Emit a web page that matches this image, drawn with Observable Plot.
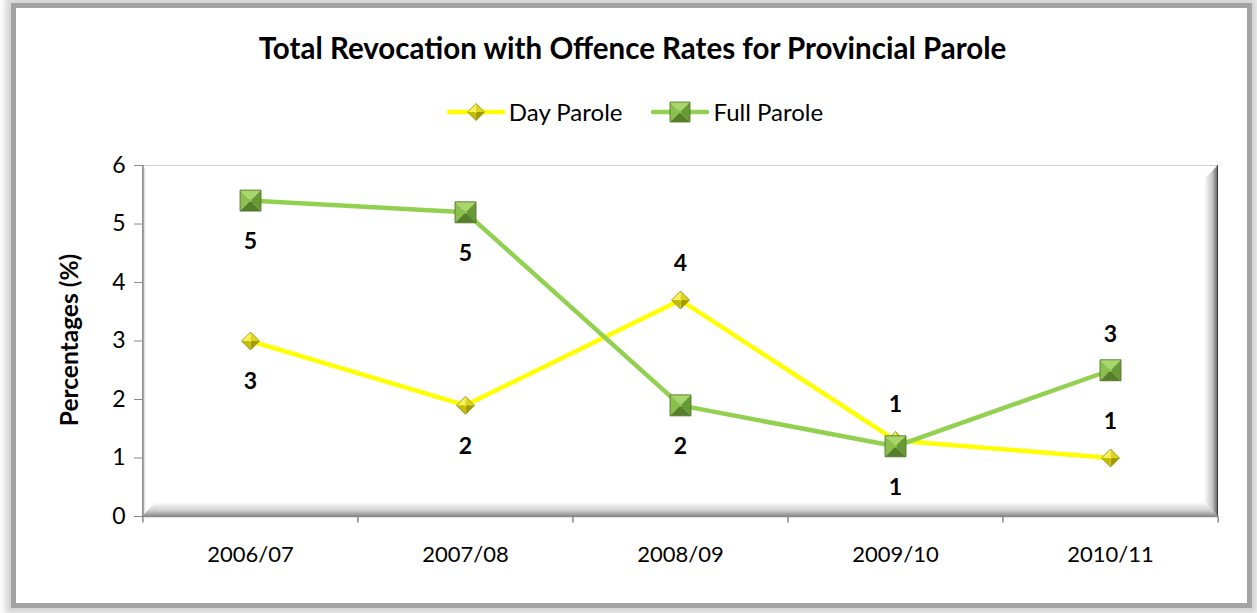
<!DOCTYPE html>
<html>
<head>
<meta charset="utf-8">
<script src="https://cdn.jsdelivr.net/npm/d3@7"></script>
<script src="https://cdn.jsdelivr.net/npm/@observablehq/plot@0.6"></script>
<style>
  html, body { margin: 0; padding: 0; background: #fff; }
  body { width: 1257px; height: 613px; position: relative; overflow: hidden; font-family: Lato, "Open Sans", sans-serif; color: #000; }
  #card { position: absolute; left: 16px; top: 8px; width: 1231px; height: 595px; background: #fff;
          box-shadow: 0 0 0 5px #a3a3a3, 0 0 6px 11px #d6d6d6; }
  #title { position: absolute; left: 0; top: 30px; width: 1265px; text-align: center; font-weight: 700; font-size: 29.5px; line-height: 36px; }
  #legend { position: absolute; left: 0; top: 97px; width: 1270px; display: flex; justify-content: center; align-items: center; gap: 29px; font-size: 24px; }
  .item { display: flex; align-items: center; gap: 4px; }
  #ylabel { position: absolute; left: 68px; top: 340px; transform: translate(-50%, -50%) rotate(-90deg); white-space: nowrap; font-weight: 700; font-size: 24.5px; }
  #chart { position: absolute; left: 0; top: 140px; }
</style>
</head>
<body>
<div id="card"></div>
<div id="title">Total Revocation with Offence Rates for Provincial Parole</div>
<div id="legend"></div>
<div id="ylabel">Percentages (%)</div>
<div id="chart"></div>
<script>
// ---- data ----
const years = ["2006/07", "2007/08", "2008/09", "2009/10", "2010/11"];
const dayParole = [3.0, 1.9, 3.7, 1.3, 1.0];
const fullParole = [5.4, 5.2, 1.9, 1.2, 2.5];
const dayLabelSide = ["below", "below", "above", "above", "above"];
const fullLabelSide = ["below", "below", "below", "below", "above"];
const yTicks = [0, 1, 2, 3, 4, 5, 6];
const seriesNames = ["Day Parole", "Full Parole"];

const dayRows = years.map((year, i) => ({year, value: dayParole[i], side: dayLabelSide[i], series: seriesNames[0]}));
const fullRows = years.map((year, i) => ({year, value: fullParole[i], side: fullLabelSide[i], series: seriesNames[1]}));

// ---- styles ----
const dayColor = "#FFFF00";
const fullColor = "#92D050";
const W = 1257, H = 436, ML = 142, MR = 39, MT = 25, MB = 60;
const step = (W - ML - MR) / years.length;

// pyramid facet symbols (h = half size)
const hs = size => Math.sqrt(size / Math.PI);
function poly(ctx, pts) { ctx.moveTo(pts[0][0], pts[0][1]); for (let k = 1; k < pts.length; k++) ctx.lineTo(pts[k][0], pts[k][1]); ctx.closePath(); }
const sq = {
  top:    {draw(c, s) { const h = hs(s), t = h * 0.12; poly(c, [[-h,-h],[h,-h],[t,-t],[-t,-t]]); }},
  left:   {draw(c, s) { const h = hs(s), t = h * 0.12; poly(c, [[-h,-h],[-t,-t],[-t,t],[-h,h]]); }},
  right:  {draw(c, s) { const h = hs(s), t = h * 0.12; poly(c, [[h,-h],[h,h],[t,t],[t,-t]]); }},
  bottom: {draw(c, s) { const h = hs(s), t = h * 0.12; poly(c, [[-h,h],[-t,t],[t,t],[h,h]]); }},
  center: {draw(c, s) { const h = hs(s), t = h * 0.12; poly(c, [[-t,-t],[t,-t],[t,t],[-t,t]]); }},
  outline:{draw(c, s) { const h = hs(s); poly(c, [[-h,-h],[h,-h],[h,h],[-h,h]]); }}
};
const sqFills = {top: "#a8d66c", left: "#8cc04e", right: "#679a34", bottom: "#557f28", center: "#8cc152"};
const dm = {
  tl: {draw(c, s) { const h = hs(s), t = h * 0.12; poly(c, [[-h,0],[0,-h],[0,-t],[-t,0]]); }},
  tr: {draw(c, s) { const h = hs(s), t = h * 0.12; poly(c, [[0,-h],[h,0],[t,0],[0,-t]]); }},
  br: {draw(c, s) { const h = hs(s), t = h * 0.12; poly(c, [[h,0],[0,h],[0,t],[t,0]]); }},
  bl: {draw(c, s) { const h = hs(s), t = h * 0.12; poly(c, [[0,h],[-h,0],[-t,0],[0,t]]); }},
  center: {draw(c, s) { const h = hs(s), t = h * 0.12; poly(c, [[0,-t],[t,0],[0,t],[-t,0]]); }},
  outline:{draw(c, s) { const h = hs(s); poly(c, [[0,-h],[h,0],[0,h],[-h,0]]); }}
};
const dmFills = {tl: "#f6f25a", tr: "#ddd520", br: "#a39c00", bl: "#c4bc0a", center: "#eae23a"};

const SQ_R = 10.5, DM_R = 9;
function markerMarks(rows, symbols, fills, r, outline) {
  const marks = Object.keys(fills).map(k => Plot.dot(rows, {x: "year", y: "value", symbol: symbols[k], r, fill: fills[k], stroke: "none"}));
  marks.push(Plot.dot(rows, {x: "year", y: "value", symbol: symbols.outline, r, fill: "none", stroke: outline, strokeWidth: 0.8}));
  return marks;
}

const labelFont = {fontSize: 23, fontWeight: "bold", fill: "#000", textAnchor: "middle", lineAnchor: "middle"};
function labelMarks(rows) {
  return [
    Plot.text(rows, {filter: d => d.side === "below", x: "year", y: "value", text: d => String(Math.round(d.value)), dy: 41, ...labelFont}),
    Plot.text(rows, {filter: d => d.side === "above", x: "year", y: "value", text: d => String(Math.round(d.value)), dy: -36, ...labelFont})
  ];
}

const chart = Plot.plot({
  width: W, height: H,
  marginLeft: ML, marginRight: MR, marginTop: MT, marginBottom: MB,
  style: {fontFamily: "Lato, 'Open Sans', sans-serif", fontSize: "22px", color: "#000", background: "transparent", overflow: "visible"},
  x: {type: "point", domain: years, padding: 0.5, label: null},
  y: {domain: [0, 6], label: null},
  marks: [
    Plot.axisY({ticks: yTicks, tickFormat: d3.format("d"), tickSize: 8, tickPadding: 9, stroke: "#8a8a8a", fill: "#000", fontSize: 23, label: null}),
    Plot.axisX({tickSize: 0, tickPadding: 30, fontSize: 22, fill: "#000", label: null}),
    Plot.ruleX([years[0]], {dx: -step / 2, stroke: "#8a8a8a", strokeWidth: 1.5}),
    Plot.ruleY([0], {stroke: "#8a8a8a", strokeWidth: 1.5, insetLeft: -1}),
    Plot.ruleX(years, {y1: 0, y2: -0.11, dx: -step / 2, stroke: "#8a8a8a", strokeWidth: 1.5}),
    Plot.ruleX([years[years.length - 1]], {y1: 0, y2: -0.11, dx: step / 2, stroke: "#8a8a8a", strokeWidth: 1.5}),
    Plot.line(dayRows, {x: "year", y: "value", stroke: dayColor, strokeWidth: 4.5, strokeLinejoin: "round"}),
    Plot.line(fullRows, {x: "year", y: "value", stroke: fullColor, strokeWidth: 4.5, strokeLinejoin: "round"}),
    ...markerMarks(dayRows, dm, dmFills, DM_R, "#8f8a00"),
    ...markerMarks(fullRows, sq, sqFills, SQ_R, "#4a6e20"),
    ...labelMarks(dayRows),
    ...labelMarks(fullRows)
  ]
});

// bevelled plot-area frame (decoration), drawn behind the marks using the scale ranges
(function addBevel() {
  const svg = d3.select(chart);
  const [x0, x1] = [ML, W - MR];
  const [y0, y1] = [MT, H - MB];
  const d = 14;
  const defs = svg.insert("defs", ":first-child");
  const gr = defs.append("linearGradient").attr("id", "bevR").attr("x1", 0).attr("x2", 1).attr("y1", 0).attr("y2", 0);
  gr.append("stop").attr("offset", 0).attr("stop-color", "#ffffff");
  gr.append("stop").attr("offset", 0.6).attr("stop-color", "#c4c4c4");
  gr.append("stop").attr("offset", 1).attr("stop-color", "#5a5a5a");
  const gb = defs.append("linearGradient").attr("id", "bevB").attr("x1", 0).attr("x2", 0).attr("y1", 0).attr("y2", 1);
  gb.append("stop").attr("offset", 0).attr("stop-color", "#ffffff");
  gb.append("stop").attr("offset", 0.6).attr("stop-color", "#d0d0d0");
  gb.append("stop").attr("offset", 1).attr("stop-color", "#8c8c8c");
  const gl = defs.append("linearGradient").attr("id", "bevL").attr("x1", 0).attr("x2", 1).attr("y1", 0).attr("y2", 0);
  gl.append("stop").attr("offset", 0).attr("stop-color", "#b8b8b8");
  gl.append("stop").attr("offset", 1).attr("stop-color", "#ffffff");
  const g = svg.insert("g", "defs + *");
  g.append("polygon").attr("points", [[x0, y1], [x1, y1], [x1 - d, y1 - d], [x0 + d, y1 - d]].join(" ")).attr("fill", "url(#bevB)");
  g.append("polygon").attr("points", [[x1, y0], [x1, y1], [x1 - d, y1 - d], [x1 - d, y0 + d]].join(" ")).attr("fill", "url(#bevR)");
  g.append("polygon").attr("points", [[x0, y0], [x0 + 4, y0 + 4], [x0 + 4, y1 - 4], [x0, y1]].join(" ")).attr("fill", "url(#bevL)");
  g.append("line").attr("x1", x0).attr("x2", x1).attr("y1", y0 + 0.5).attr("y2", y0 + 0.5).attr("stroke", "#cfcfcf");
  g.append("line").attr("x1", x1 - 0.5).attr("x2", x1 - 0.5).attr("y1", y0).attr("y2", y1).attr("stroke", "#3c3c3c");
})();

document.getElementById("chart").appendChild(chart);

// legend
function legendItem(name, color, symbols, fills, r, outline) {
  const item = document.createElement("div");
  item.className = "item";
  const s = d3.create("svg").attr("width", 58).attr("height", 24);
  s.append("line").attr("x1", 2).attr("x2", 56).attr("y1", 12).attr("y2", 12).attr("stroke", color).attr("stroke-width", 4.5).attr("stroke-linecap", "round");
  const size = Math.PI * r * r;
  for (const k of Object.keys(fills)) {
    const p = d3.path(); symbols[k].draw(p, size);
    s.append("path").attr("transform", "translate(29,12)").attr("d", p.toString()).attr("fill", fills[k]);
  }
  const p = d3.path(); symbols.outline.draw(p, size);
  s.append("path").attr("transform", "translate(29,12)").attr("d", p.toString()).attr("fill", "none").attr("stroke", outline).attr("stroke-width", 0.8);
  item.appendChild(s.node());
  const t = document.createElement("span"); t.textContent = name;
  item.appendChild(t);
  return item;
}
const legend = document.getElementById("legend");
legend.appendChild(legendItem(seriesNames[0], dayColor, dm, dmFills, 8.5, "#8f8a00"));
legend.appendChild(legendItem(seriesNames[1], fullColor, sq, sqFills, 10, "#4a6e20"));
</script>
</body>
</html>
